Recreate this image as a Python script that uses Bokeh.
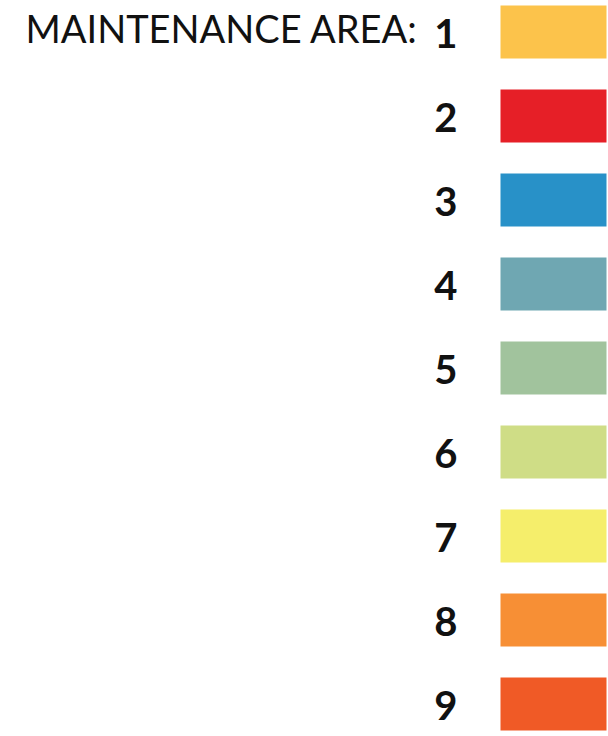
from bokeh.plotting import figure
from bokeh.models import Range1d, ColumnDataSource
from bokeh.core.properties import value
from bokeh.embed import file_html
from bokeh.resources import INLINE

title = "MAINTENANCE AREA:"
areas = ["1", "2", "3", "4", "5", "6", "7", "8", "9"]
colors = ["#FCC34B", "#E61F27", "#2891C8", "#6FA7B2", "#A1C39D",
          "#CFDD86", "#F5EE6B", "#F78F35", "#F05A26"]

W, H = 608, 736
ROW = 84.0  # px per row
top_off = 31.5  # px from top to first row centre

rows = list(range(len(areas)))
src = ColumnDataSource(dict(
    row=rows,
    label=areas,
    color=colors,
    lab_y=[r + 1.0 / ROW for r in rows],
))

p = figure(width=W, height=H, output_backend="svg", toolbar_location=None,
           x_range=Range1d(0, W),
           y_range=Range1d((H - top_off) / ROW, -top_off / ROW),
           min_border=0, outline_line_color=None)
p.axis.visible = False
p.grid.visible = False
p.background_fill_color = "white"

p.rect(x=553, y="row", width=106, height=53 / ROW, fill_color="color",
       line_color=None, source=src)

p.text(x=457, y="lab_y", text="label", source=src,
       text_font=value("Lato"), text_font_style="bold",
       text_font_size="40px", text_align="right",
       text_baseline="alphabetic", text_color="#111111")

p.text(x=25, y=-4.0 / ROW, text=[title],
       text_font=value("Lato"), text_font_size="38px",
       text_align="left", text_baseline="alphabetic", text_color="#111111")

open("out.html", "w").write(file_html(p, INLINE))
